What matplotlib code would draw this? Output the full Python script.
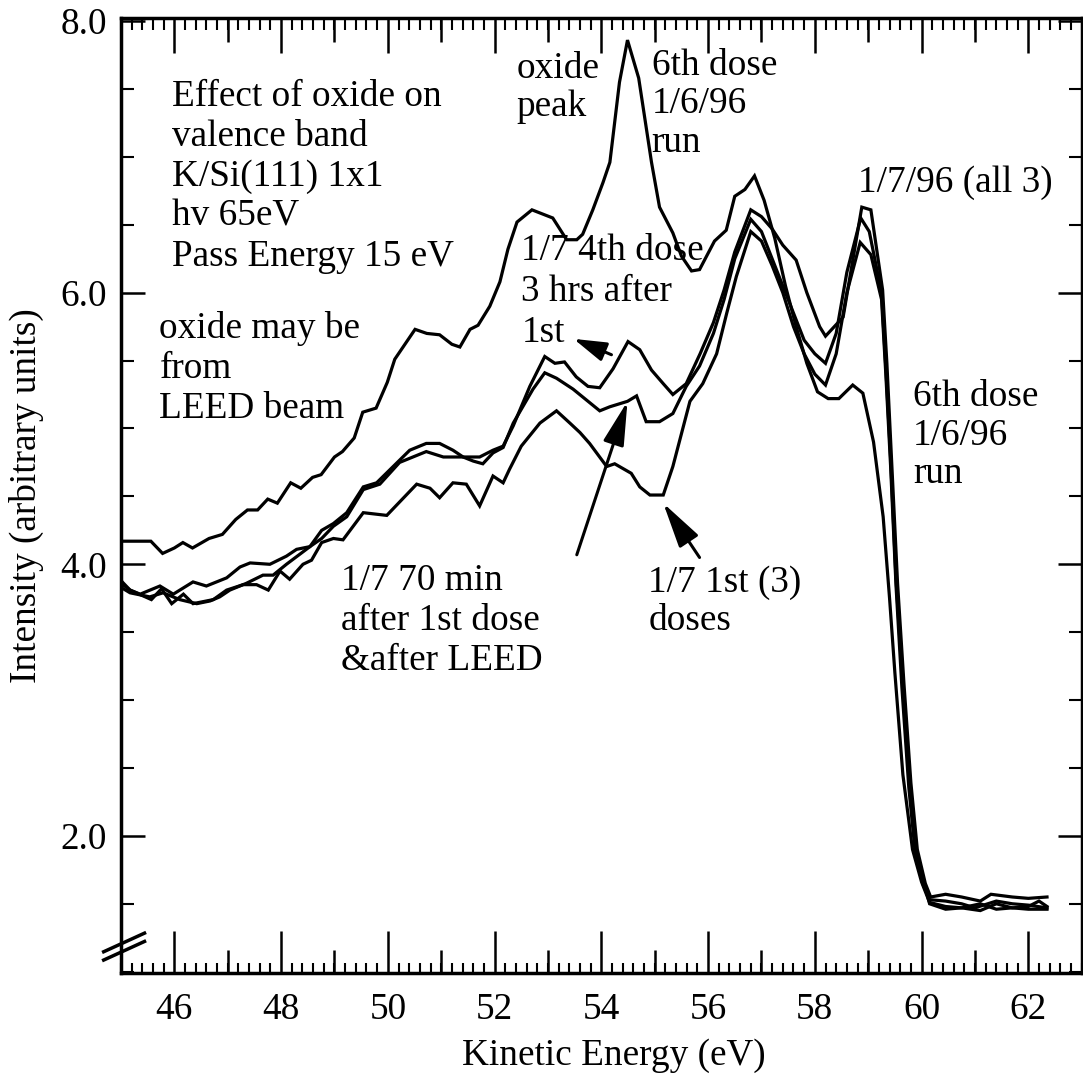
import matplotlib
matplotlib.use("Agg")
import matplotlib.pyplot as plt
from matplotlib.ticker import MultipleLocator, FixedLocator, FormatStrFormatter

plt.rcParams['font.family'] = ['Liberation Serif', 'DejaVu Serif']

# 6th dose, 1/6/96 run (oxide peak near 54.5 eV)
ke_6th = [45.00, 45.56, 45.78, 46.00, 46.16, 46.34, 46.65, 46.90, 47.15, 47.37, 47.56, 47.75,
          47.93, 48.18, 48.37, 48.59, 48.75, 49.00, 49.15, 49.37, 49.53, 49.78, 49.99, 50.13,
          50.51, 50.73, 50.97, 51.20, 51.35, 51.54, 51.69, 51.91, 52.10, 52.25, 52.42, 52.70,
          53.09, 53.35, 53.54, 53.65, 53.84, 54.03, 54.16, 54.34, 54.49, 54.70, 54.94, 55.09,
          55.34, 55.50, 55.69, 55.84, 56.12, 56.34, 56.50, 56.69, 56.87, 57.05, 57.25, 57.45,
          57.65, 57.85, 58.05, 58.25, 58.45, 58.71, 58.90, 59.10, 59.28, 59.40, 59.50, 59.65,
          59.83, 60.00, 60.15, 60.45, 60.75, 61.10, 61.40, 61.70, 62.00, 62.35]
int_6th = [4.17, 4.17, 4.08, 4.12, 4.16, 4.12, 4.19, 4.22, 4.33, 4.40, 4.40, 4.48,
           4.45, 4.60, 4.56, 4.64, 4.66, 4.79, 4.83, 4.93, 5.12, 5.15, 5.34, 5.51,
           5.73, 5.70, 5.69, 5.62, 5.60, 5.73, 5.76, 5.90, 6.08, 6.32, 6.52, 6.61,
           6.55, 6.39, 6.39, 6.43, 6.61, 6.81, 6.96, 7.55, 7.86, 7.58, 6.96, 6.63,
           6.44, 6.27, 6.16, 6.17, 6.38, 6.46, 6.71, 6.76, 6.86, 6.68, 6.40, 6.05,
           5.75, 5.48, 5.27, 5.22, 5.22, 5.32, 5.26, 4.90, 4.35, 3.75, 3.20, 2.45,
           1.90, 1.66, 1.51, 1.48, 1.47, 1.50, 1.46, 1.47, 1.46, 1.46]

# 1/7 4th dose, 3 hrs after 1st
ke_4th = [45.00, 45.17, 45.36, 45.73, 45.98, 46.35, 46.60, 46.98, 47.23, 47.42, 47.79, 48.10,
          48.29, 48.54, 48.76, 48.98, 49.23, 49.54, 49.79, 50.10, 50.41, 50.72, 50.97, 51.22,
          51.41, 51.72, 51.97, 52.16, 52.35, 52.66, 52.94, 53.13, 53.31, 53.53, 53.75, 53.97,
          54.22, 54.50, 54.72, 54.94, 55.16, 55.34, 55.59, 55.85, 56.10, 56.30, 56.50, 56.80,
          57.00, 57.20, 57.40, 57.65, 57.85, 58.09, 58.20, 58.53, 58.88, 59.05, 59.27, 59.35,
          59.44, 59.55, 59.67, 59.80, 59.92, 60.07, 60.17, 60.45, 60.75, 61.10, 61.30, 61.70,
          62.00, 62.35]
int_4th = [3.86, 3.81, 3.78, 3.84, 3.78, 3.87, 3.84, 3.90, 3.98, 4.01, 4.00, 4.06,
           4.11, 4.13, 4.25, 4.30, 4.38, 4.57, 4.60, 4.72, 4.84, 4.89, 4.89, 4.84,
           4.79, 4.79, 4.84, 4.87, 5.02, 5.31, 5.53, 5.48, 5.49, 5.38, 5.31, 5.30,
           5.44, 5.64, 5.58, 5.43, 5.33, 5.25, 5.33, 5.55, 5.78, 6.02, 6.30, 6.61,
           6.56, 6.47, 6.35, 6.24, 6.00, 5.75, 5.68, 5.82, 6.63, 6.61, 6.02, 5.48,
           4.75, 3.86, 3.12, 2.39, 1.90, 1.65, 1.55, 1.57, 1.55, 1.52, 1.57, 1.55,
           1.54, 1.55]

# 1/7 70 min after 1st dose & after LEED
ke_70m = [45.00, 45.17, 45.54, 45.79, 46.10, 46.42, 46.67, 46.85, 47.04, 47.35, 47.66, 47.85,
          48.10, 48.54, 48.76, 48.98, 49.23, 49.54, 49.85, 50.22, 50.72, 51.04, 51.41, 51.60,
          51.78, 51.97, 52.16, 52.35, 52.72, 52.94, 53.16, 53.47, 53.72, 53.97, 54.16, 54.49,
          54.66, 54.84, 55.09, 55.34, 55.59, 55.84, 56.10, 56.30, 56.50, 56.80, 57.00, 57.20,
          57.40, 57.60, 57.80, 58.00, 58.20, 58.40, 58.60, 58.86, 59.02, 59.25, 59.33, 59.42,
          59.52, 59.64, 59.77, 59.89, 60.04, 60.15, 60.45, 60.75, 61.10, 61.40, 61.70, 62.00,
          62.20, 62.35]
int_70m = [3.83, 3.79, 3.76, 3.79, 3.74, 3.71, 3.73, 3.76, 3.81, 3.86, 3.92, 3.92,
           4.00, 4.13, 4.19, 4.28, 4.35, 4.55, 4.59, 4.75, 4.83, 4.79, 4.79, 4.76,
           4.74, 4.82, 4.86, 5.04, 5.29, 5.41, 5.37, 5.29, 5.21, 5.13, 5.16, 5.20,
           5.24, 5.05, 5.05, 5.11, 5.31, 5.46, 5.70, 5.95, 6.25, 6.54, 6.45, 6.25,
           6.05, 5.85, 5.65, 5.55, 5.48, 5.70, 6.15, 6.55, 6.45, 6.00, 5.45, 4.78,
           3.90, 3.15, 2.42, 1.92, 1.66, 1.50, 1.46, 1.47, 1.45, 1.50, 1.47, 1.48,
           1.52, 1.48]

# 1/7 1st (3) doses
ke_1st = [45.00, 45.17, 45.57, 45.76, 45.95, 46.17, 46.35, 46.73, 46.98, 47.29, 47.54, 47.76,
          47.98, 48.16, 48.41, 48.57, 48.76, 48.98, 49.16, 49.54, 49.98, 50.54, 50.79, 50.97,
          51.22, 51.47, 51.72, 51.97, 52.16, 52.28, 52.50, 52.85, 53.16, 53.41, 53.60, 53.78,
          54.10, 54.25, 54.56, 54.72, 54.91, 55.16, 55.34, 55.66, 55.90, 56.16, 56.35, 56.53,
          56.80, 57.00, 57.20, 57.40, 57.60, 57.80, 58.00, 58.20, 58.40, 58.60, 58.85, 59.05,
          59.25, 59.33, 59.42, 59.52, 59.63, 59.76, 59.88, 60.03, 60.15, 60.45, 60.75, 61.00,
          61.40, 61.70, 62.00, 62.35]
int_1st = [3.88, 3.81, 3.74, 3.82, 3.71, 3.78, 3.71, 3.74, 3.81, 3.85, 3.85, 3.81,
           3.95, 3.89, 4.00, 4.03, 4.16, 4.19, 4.18, 4.38, 4.36, 4.59, 4.56, 4.49,
           4.60, 4.59, 4.43, 4.65, 4.60, 4.70, 4.87, 5.04, 5.13, 5.04, 4.97, 4.89,
           4.72, 4.74, 4.67, 4.57, 4.51, 4.51, 4.72, 5.20, 5.33, 5.55, 5.85, 6.12,
           6.45, 6.38, 6.20, 6.00, 5.75, 5.55, 5.40, 5.32, 5.55, 6.00, 6.37, 6.28,
           5.95, 5.40, 4.72, 3.85, 3.10, 2.36, 1.88, 1.64, 1.53, 1.52, 1.50, 1.47,
           1.52, 1.50, 1.49, 1.47]

y_ticks = [2.0, 4.0, 6.0, 8.0]

FS = 26.8
LW = 2.3

fig = plt.figure(figsize=(10.83, 10.74), dpi=100)
ax = fig.add_axes([0.1117, 0.0940, 0.8871, 0.8889])

for ke, inten in [(ke_6th, int_6th), (ke_4th, int_4th), (ke_70m, int_70m), (ke_1st, int_1st)]:
    ax.plot(ke, inten, color='black', lw=LW, solid_joinstyle='miter')

ax.set_xlim(45.0, 63.0)
ax.set_ylim(0.99, 8.02)

for s in ax.spines.values():
    s.set_linewidth(2.5)

# bottom axis: long ticks every 2, fine ticks every 0.2
ax.xaxis.set_major_locator(MultipleLocator(2))
ax.xaxis.set_minor_locator(MultipleLocator(0.2))
ax.tick_params(axis='x', which='major', direction='in', length=30, width=1.8,
               labelsize=FS, pad=14, top=False)
ax.tick_params(axis='x', which='minor', direction='in', length=7.2, width=1.5, top=False)

# medium ticks at odd values, bottom and top
odd = list(range(45, 64, 2))
for loc, ln in [('bottom', 16.6), ('top', 17)]:
    sec = ax.secondary_xaxis(loc)
    sec.set_xticks(odd)
    sec.tick_params(direction='in', length=ln, width=1.8, labelbottom=False, labeltop=False)
    sec.spines[loc].set_visible(False)

top = ax.secondary_xaxis('top')
top.xaxis.set_major_locator(MultipleLocator(2))
top.xaxis.set_minor_locator(MultipleLocator(0.2))
top.tick_params(which='major', direction='in', length=25, width=1.8, labeltop=False)
top.tick_params(which='minor', direction='in', length=8.4, width=1.5)
top.spines['top'].set_visible(False)

ax.yaxis.set_major_locator(FixedLocator(y_ticks))
ax.yaxis.set_minor_locator(MultipleLocator(0.5))
ax.yaxis.set_major_formatter(FormatStrFormatter('%.1f'))
ax.tick_params(axis='y', which='major', direction='in', length=17, width=1.8,
               labelsize=FS, pad=10, right=True)
ax.tick_params(axis='y', which='minor', direction='in', length=9.5, width=1.5, right=True)

ax.set_xlabel('Kinetic Energy (eV)', fontsize=FS)
ax.xaxis.set_label_coords(0.513, -0.068)
ax.set_ylabel('Intensity (arbitrary units)', fontsize=FS)
ax.yaxis.set_label_coords(-0.080, 0.5)

# axis break marks on the left spine
for y0 in (0.0136, 0.0223):
    ax.plot([-0.0180, 0.0245], [y0, y0 + 0.0195], transform=ax.transAxes,
            color='black', lw=2.5, clip_on=False)


def put_lines(x, y, lines, step=28.8):
    for i, s in enumerate(lines):
        ax.annotate(s, (x, y), xytext=(0, -i * step), textcoords='offset points',
                    ha='left', va='baseline', fontsize=FS)


put_lines(45.95, 7.378, ['Effect of oxide on', 'valence band', 'K/Si(111) 1x1',
                         'hv 65eV', 'Pass Energy 15 eV'])
put_lines(52.41, 7.584, ['oxide', 'peak'], step=27.5)
put_lines(54.94, 7.606, ['6th dose', '1/6/96', 'run'], step=28)
put_lines(58.80, 6.746, ['1/7/96 (all 3)'])
put_lines(52.50, 6.243, ['1/7 4th dose', '3 hrs after', '1st'], step=29.5)
put_lines(45.72, 5.667, ['oxide may be', 'from', 'LEED beam'])
put_lines(49.13, 3.812, ['1/7 70 min', 'after 1st dose', '&after LEED'])
put_lines(54.88, 3.80, ['1/7 1st (3)', 'doses'], step=27.7)
put_lines(59.84, 5.162, ['6th dose', '1/6/96', 'run'], step=27.5)

# pointers from the labels to the curves
arrows = [((53.48, 5.66), (54.19, 5.543), 20, 6),
          ((54.49, 5.20), (53.54, 4.07), 27, 6.5),
          ((55.16, 4.45), (55.84, 4.05), 28, 7)]
for tip, tail, hl, hw in arrows:
    ax.annotate('', xy=tip, xytext=tail,
                arrowprops=dict(arrowstyle='-|>,head_length=%g,head_width=%g' % (hl, hw),
                                mutation_scale=1, lw=2.2, color='black',
                                shrinkA=0, shrinkB=0))

fig.savefig('out.png', dpi=100)
